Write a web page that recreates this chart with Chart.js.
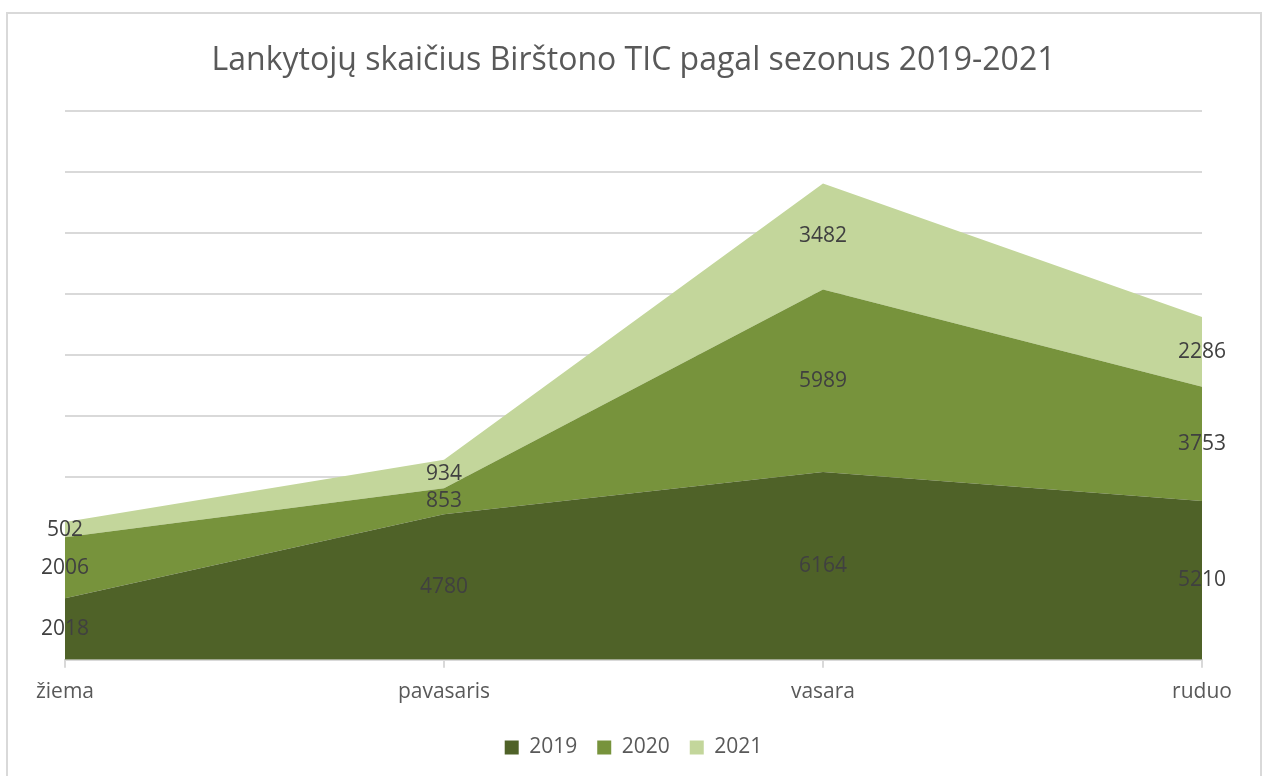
<!DOCTYPE html>
<html>
<head>
<meta charset="utf-8">
<script src="https://cdn.jsdelivr.net/npm/chart.js@4.4.1/dist/chart.umd.min.js"></script>
<style>
  html, body { margin: 0; padding: 0; background: #ffffff; overflow: hidden; }
  #wrap { position: relative; width: 1263px; height: 776px; }
  #frame { position: absolute; left: 6px; top: 12px; width: 1256px; height: 800px; border: 2px solid #D9D9D9; box-sizing: border-box; pointer-events: none; }
  canvas { position: absolute; left: 0; top: 0; }
</style>
</head>
<body>
<div id="wrap">
  <canvas id="c" width="1263" height="776"></canvas>
  <div id="frame"></div>
</div>
<script>
const categories = ['žiema', 'pavasaris', 'vasara', 'ruduo'];
const seriesNames = ['2019', '2020', '2021'];
const values2019 = [2018, 4780, 6164, 5210];
const values2020 = [2006, 853, 5989, 3753];
const values2021 = [502, 934, 3482, 2286];
const yMin = 0, yMax = 18000, yStep = 2000;
const titleText = 'Lankytojų skaičius Birštono TIC pagal sezonus 2019-2021';

const colors = ['#4F6228', '#77933C', '#C3D69B'];
const FONT = "'Open Sans', 'Noto Sans', sans-serif";

const allSeries = [values2019, values2020, values2021];

const dataLabelPlugin = {
  id: 'dataLabels',
  afterDatasetsDraw(chart) {
    const ctx = chart.ctx;
    const xs = chart.scales.x, ys = chart.scales.y;
    ctx.save();
    ctx.font = '21px ' + FONT;
    ctx.fillStyle = '#404040';
    ctx.textAlign = 'center';
    ctx.textBaseline = 'middle';
    chart.data.datasets.forEach((ds, di) => {
      ds.data.forEach((v, j) => {
        let base = 0;
        for (let k = 0; k < di; k++) base += chart.data.datasets[k].data[j];
        const y = ys.getPixelForValue(base + v / 2);
        const x = xs.getPixelForValue(j);
        ctx.fillText(String(v), x, y);
      });
    });
    ctx.restore();
  }
};

new Chart(document.getElementById('c'), {
  type: 'line',
  data: {
    labels: categories,
    datasets: allSeries.map((vals, i) => ({
      label: seriesNames[i],
      data: vals,
      backgroundColor: colors[i],
      borderColor: colors[i],
      borderWidth: 0,
      pointRadius: 0,
      tension: 0,
      fill: i === 0 ? 'origin' : '-1'
    }))
  },
  options: {
    responsive: false,
    animation: false,
    layout: { padding: { left: 65, right: 61, top: 0, bottom: 8 } },
    plugins: {
      title: {
        display: true,
        text: titleText,
        color: '#595959',
        font: { family: FONT, size: 32, weight: 'normal' },
        padding: { top: 42, bottom: 31 }
      },
      legend: {
        display: true,
        position: 'bottom',
        labels: {
          color: '#595959',
          font: { family: FONT, size: 21 },
          boxWidth: 14,
          boxHeight: 14,
          padding: 20
        }
      },
      tooltip: { enabled: false }
    },
    scales: {
      x: {
        offset: false,
        grid: { display: true, drawOnChartArea: false, drawTicks: true, tickLength: 8, color: '#D9D9D9', lineWidth: 2 },
        border: { display: true, color: '#D9D9D9', width: 2 },
        ticks: { color: '#595959', font: { family: FONT, size: 21 }, padding: 12, maxRotation: 0 }
      },
      y: {
        stacked: true,
        min: yMin,
        max: yMax,
        ticks: { display: false, stepSize: yStep },
        border: { display: false },
        grid: { color: '#D9D9D9', lineWidth: 2, drawTicks: false }
      }
    }
  },
  plugins: [dataLabelPlugin]
});
</script>
</body>
</html>
